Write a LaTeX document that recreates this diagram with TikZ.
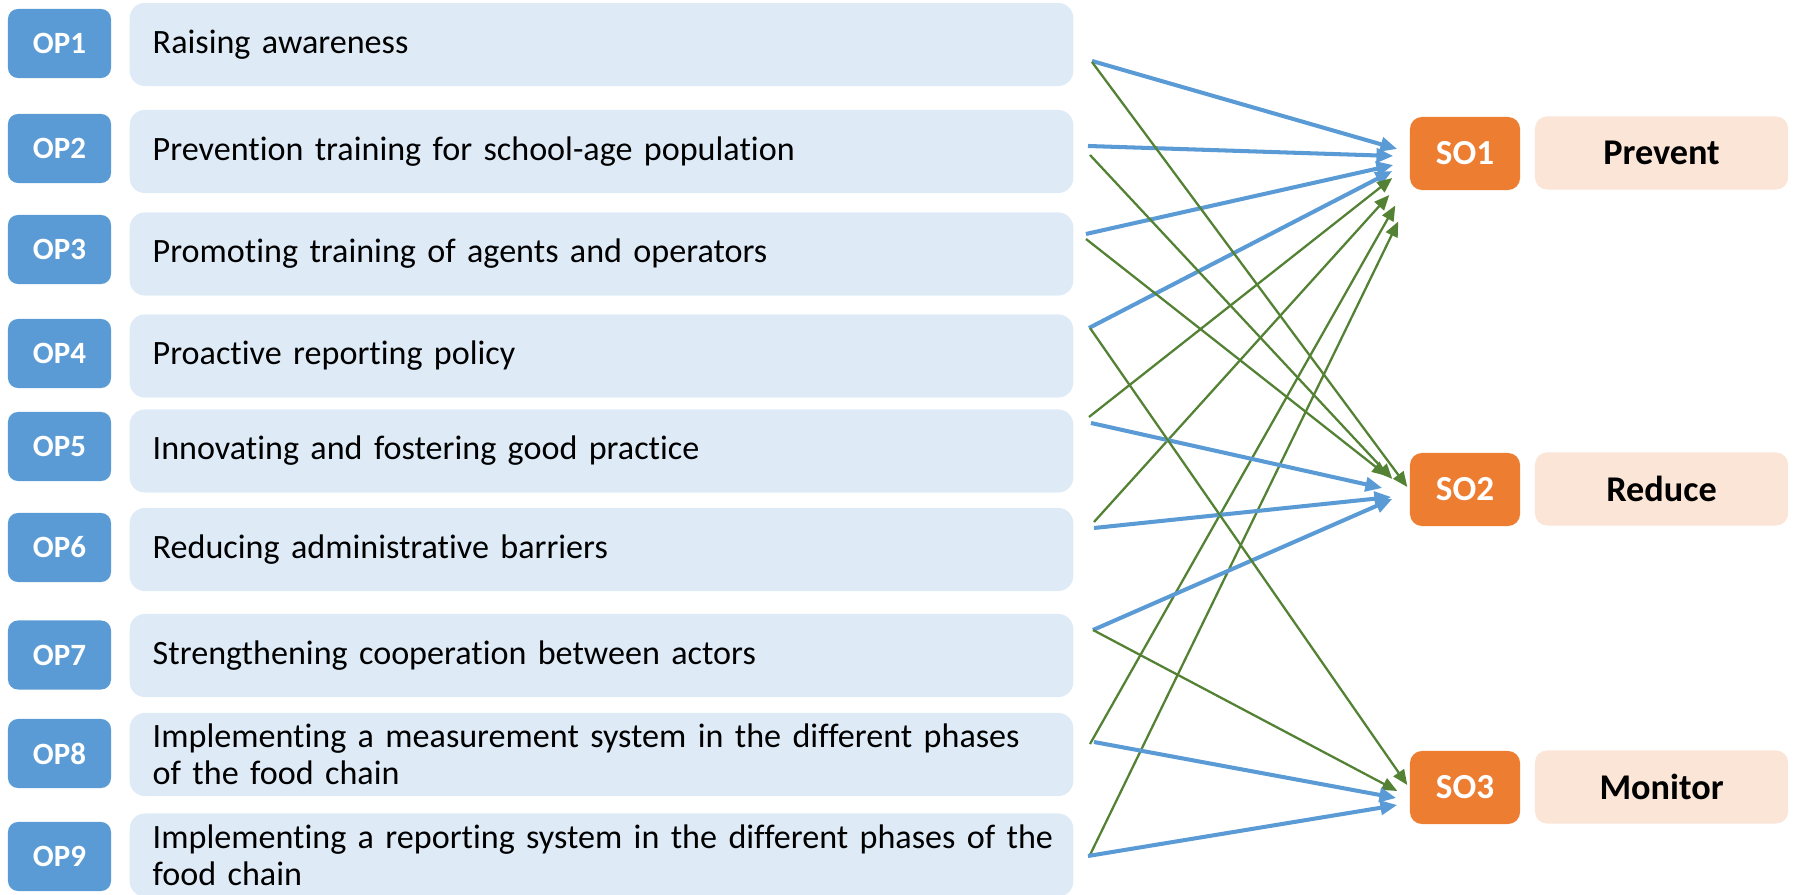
\documentclass[tikz,border=0pt]{standalone}
\usepackage{fontspec}
\setmainfont{Carlito}[Ligatures=NoCommon]
\usepackage{xcolor}
\usetikzlibrary{calc,positioning,arrows.meta}
\definecolor{opblue}{HTML}{5B9BD5}
\definecolor{boxblue}{HTML}{DEEBF7}
\definecolor{soorange}{HTML}{ED7D31}
\definecolor{sopeach}{HTML}{FBE5D6}
\definecolor{linkgreen}{HTML}{548235}

\begin{document}
\begin{tikzpicture}[x=0.01cm,y=-0.01cm]
\tikzset{
    op label/.style={
       fill = opblue,
       rounded corners = 0.1cm,
       minimum width = 1.03cm,
       minimum height = 0.69cm,
       inner sep = 0pt,
       text = white,
       font = \fontsize{8.8}{10}\selectfont\bfseries
    },
    op text/.style={
       fill = boxblue,
       rounded corners = 0.15cm,
       text width = 8.97cm,
       inner xsep = 0.23cm,
       inner ysep = 0pt,
       minimum height = 0.83cm,
       align = left,
       font = \fontsize{9.7}{10.6}\selectfont
    },
    so label/.style={
       fill = soorange,
       rounded corners = 0.12cm,
       minimum width = 1.1cm,
       minimum height = 0.73cm,
       inner sep = 0pt,
       text = white,
       font = \fontsize{10}{12}\selectfont\bfseries
    },
    so goal/.style={
       fill = sopeach,
       rounded corners = 0.12cm,
       minimum width = 2.53cm,
       minimum height = 0.73cm,
       inner sep = 0pt,
       font = \fontsize{10.3}{12}\selectfont\bfseries
    },
    blue link/.style={
       draw = opblue,
       line width = 1.15pt,
       -{Triangle[length=4.8pt,width=4pt]}
    },
    green link/.style={
       draw = linkgreen,
       line width = 0.65pt,
       -{Triangle[length=4.3pt,width=3.6pt]}
    }
}
\useasboundingbox (0,0) rectangle (1795,895);
%
\node[op label] (op1) at (59.5,43.5)  {OP1};
\node[op label] (op2) at (59.5,148.5) {OP2};
\node[op label] (op3) at (59.5,249.5) {OP3};
\node[op label] (op4) at (59.5,353.5) {OP4};
\node[op label] (op5) at (59.5,446.5) {OP5};
\node[op label] (op6) at (59.5,547.5) {OP6};
\node[op label] (op7) at (59.5,655)   {OP7};
\node[op label] (op8) at (59.5,753.5) {OP8};
\node[op label] (op9) at (59.5,856.5) {OP9};

\node[op text] (txt1) at (601.5,44.5)  {Raising awareness};
\node[op text] (txt2) at (601.5,151.5) {Prevention training for school-age population};
\node[op text] (txt3) at (601.5,254)   {Promoting training of agents and operators};
\node[op text] (txt4) at (601.5,356)   {Proactive reporting policy};
\node[op text] (txt5) at (601.5,451)   {Innovating and fostering good practice};
\node[op text] (txt6) at (601.5,549.5) {Reducing administrative barriers};
\node[op text] (txt7) at (601.5,655.5) {Strengthening cooperation between actors};
\node[op text] (txt8) at (601.5,754.5) {Implementing a measurement system in the different phases\\of the food chain};
\node[op text] (txt9) at (601.5,855)   {\makebox[\linewidth][l]{Implementing a reporting system in the different phases of the}\\food chain};

\node[so label] (so1) at (1465,153.5) {SO1};
\node[so label] (so2) at (1465,489.5) {SO2};
\node[so label] (so3) at (1465,787.5) {SO3};
\node[so goal] (goal1) at (1661.5,153) {Prevent};
\node[so goal] (goal2) at (1661.5,489) {Reduce};
\node[so goal] (goal3) at (1661.5,787) {Monitor};

% links to SO1
\draw[blue link] ([shift={(18,16.5)}]txt1.east) -- ([shift={(-12,-4.5)}]so1.west);
\draw[blue link] ([shift={(14,-5.5)}]txt2.east) -- ([shift={(-16,2.5)}]so1.west);
\draw[blue link] ([shift={(12,-20)}]txt3.east) -- ([shift={(-16,11.5)}]so1.west);
\draw[blue link] ([shift={(15,-28)}]txt4.east) -- ([shift={(-17,17.5)}]so1.west);
\draw[green link] ([shift={(15,-34)}]txt5.east) -- ([shift={(-17,24.5)}]so1.west);
\draw[green link] ([shift={(20,-27.5)}]txt6.east) -- ([shift={(-20,41.5)}]so1.west);
\draw[green link] ([shift={(16,-10.5)}]txt8.east) -- ([shift={(-14,52)}]so1.west);
\draw[green link] ([shift={(15,2)}]txt9.east) -- ([shift={(-11,68)}]so1.west);

% links to SO2
\draw[green link] ([shift={(18,17.5)}]txt1.east) -- ([shift={(-2,-2.5)}]so2.west);
\draw[green link] ([shift={(16,3.5)}]txt2.east) -- ([shift={(-17,-10.5)}]so2.west);
\draw[green link] ([shift={(12,-15)}]txt3.east) -- ([shift={(-22,-13.5)}]so2.west);
\draw[blue link] ([shift={(17,-28)}]txt5.east) -- ([shift={(-27,-1.5)}]so2.west);
\draw[blue link] ([shift={(20,-21.5)}]txt6.east) -- ([shift={(-18,7.5)}]so2.west);
\draw[blue link] ([shift={(19,-25.5)}]txt7.east) -- ([shift={(-17,9.5)}]so2.west);

% links to SO3
\draw[green link] ([shift={(16,-28)}]txt4.east) -- ([shift={(-2,-2.5)}]so3.west);
\draw[green link] ([shift={(19,-25.5)}]txt7.east) -- ([shift={(-12,3.5)}]so3.west);
\draw[blue link] ([shift={(20,-12.5)}]txt8.east) -- ([shift={(-13,10.5)}]so3.west);
\draw[blue link] ([shift={(14,1)}]txt9.east) -- ([shift={(-12,17.5)}]so3.west);
\end{tikzpicture}
\end{document}
